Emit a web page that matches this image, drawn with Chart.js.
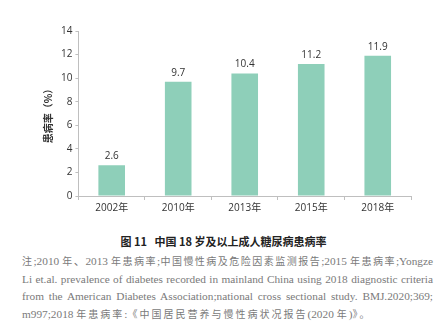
<!DOCTYPE html>
<html>
<head>
<meta charset="utf-8">
<script src="https://cdn.jsdelivr.net/npm/chart.js@4/dist/chart.umd.min.js"></script>
<style>
    body { margin: 0; background: #fff; width: 447px; height: 336px; overflow: hidden; }
    #wrap { position: relative; width: 447px; height: 225px; }
    .caption {
        position: absolute; top: 233px; left: 0; width: 447px; text-align: center;
        font-family: "Noto Sans CJK SC", sans-serif; font-weight: bold; font-size: 11px; color: #222;
    }
    .notes {
        position: absolute; top: 253px; left: 22px; width: 411px;
        font-family: "Liberation Serif", "Noto Sans CJK SC", serif; font-size: 11.3px; line-height: 17.7px;
        color: #7a7a7a;
    }
    .notes div { text-align: justify; text-align-last: justify; text-justify: inter-character; white-space: nowrap; }
    .notes .cn { font-size: 10px; letter-spacing: 1.2px; }
    .notes div.last { text-align-last: left; }
    .notes div.last .cn { letter-spacing: 2px; }
</style>
</head>
<body>
<div id="wrap"><canvas id="chart" width="447" height="225"></canvas></div>
<div class="caption">图 11&nbsp;&nbsp;&nbsp;中国 18 岁及以上成人糖尿病患病率</div>
<div class="notes">
    <div><span class="cn">注</span>;2010 <span class="cn">年</span>、2013 <span class="cn">年患病率</span>;<span class="cn">中国慢性病及危险因素监测报告</span>;2015 <span class="cn">年患病率</span>;Yongze</div>
    <div>Li et.al. prevalence of diabetes recorded in mainland China using 2018 diagnostic criteria</div>
    <div>from the American Diabetes Association;national cross sectional study. BMJ.2020;369;</div>
    <div class="last">m997;2018 <span class="cn">年患病率</span>:<span class="cn">《中国居民营养与慢性病状况报告</span>(2020 <span class="cn">年</span>)<span class="cn">》。</span></div>
</div>
<script>
const years = ['2002年', '2010年', '2013年', '2015年', '2018年'];
const rates = [2.6, 9.7, 10.4, 11.2, 11.9];
const yTicks = [0, 2, 4, 6, 8, 10, 12, 14];

const barLabels = {
    id: 'barLabels',
    afterDatasetsDraw(chart) {
        const ctx = chart.ctx;
        const meta = chart.getDatasetMeta(0);
        ctx.save();
        ctx.font = '10px "Open Sans", sans-serif';
        ctx.fillStyle = '#333';
        ctx.textAlign = 'center';
        ctx.textBaseline = 'bottom';
        meta.data.forEach((bar, i) => {
            ctx.fillText(rates[i].toFixed(1), bar.x, bar.y - 4);
        });
        ctx.restore();
    }
};

const ctx = document.getElementById('chart').getContext('2d');
new Chart(ctx, {
    type: 'bar',
    data: {
        labels: years,
        datasets: [{
            data: rates,
            backgroundColor: '#8ecfb9',
            categoryPercentage: 1,
            barPercentage: 0.4
        }]
    },
    options: {
        responsive: false,
        animation: false,
        devicePixelRatio: 1,
        layout: { padding: { left: 38, right: 36, top: 31, bottom: 9 } },
        plugins: { legend: { display: false }, tooltip: { enabled: false } },
        scales: {
            x: {
                grid: { drawOnChartArea: false, drawTicks: true, tickLength: 4, color: '#bfbfbf' },
                border: { color: '#bfbfbf', width: 1 },
                ticks: { color: '#333', font: { size: 10, family: '"Open Sans", "Noto Sans CJK SC", sans-serif' }, padding: 2 }
            },
            y: {
                min: 0,
                max: 14,
                afterBuildTicks(axis) { axis.ticks = yTicks.map(v => ({ value: v })); },
                grid: { drawOnChartArea: false, drawTicks: true, tickLength: 3, color: '#bfbfbf' },
                border: { color: '#bfbfbf', width: 1 },
                ticks: { color: '#333', font: { size: 10, family: '"Open Sans", sans-serif' }, padding: 3 },
                title: {
                    display: true,
                    text: '患病率（%）',
                    color: '#333',
                    font: { size: 10, weight: 'bold', family: '"Noto Sans CJK SC", sans-serif' },
                    padding: 4
                }
            }
        }
    },
    plugins: [barLabels]
});
</script>
</body>
</html>
